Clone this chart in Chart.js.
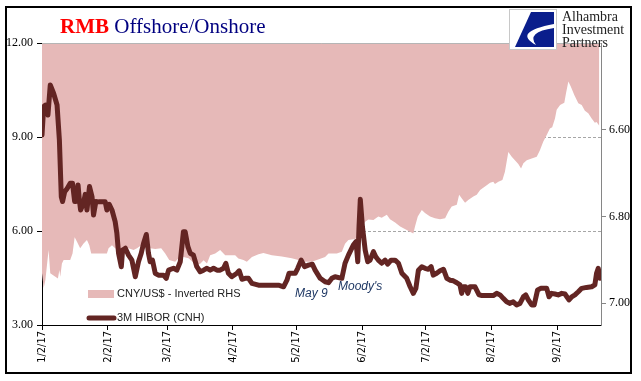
<!DOCTYPE html>
<html>
<head>
<meta charset="utf-8">
<script src="https://cdn.jsdelivr.net/npm/chart.js@4.4.0/dist/chart.umd.min.js"></script>
<style>
  html, body { margin: 0; padding: 0; background: #fff; }
  #wrap { width: 641px; height: 381px; }
</style>
</head>
<body>
<div id="wrap"><canvas id="rmbChart" width="641" height="381"></canvas></div>
<script>
// x values are days since 1/2/17
const tickDays = [0, 31, 59, 90, 120, 151, 181, 212, 243];
const tickLabels = ['1/2/17', '2/2/17', '3/2/17', '4/2/17', '5/2/17', '6/2/17', '7/2/17', '8/2/17', '9/2/17'];

// 3M HIBOR (CNH), left axis
const hiborDays = [
    0, 0.8, 1.6, 2.8, 3.9, 5.5, 7.1, 8.2, 9.1, 9.7,
    10.7, 11.8, 13.3, 14.4, 15.4, 16, 17, 17.6, 18.2, 19.6,
    20.4, 21.2, 22.4, 23.6, 24.3, 25.4, 26.7, 29.8, 30.6, 31.7,
    33, 34.5, 35.3, 36.1, 37.4, 38, 39.3, 40.8, 42.4, 44,
    45.5, 46.8, 47.9, 49.2, 50.2, 51, 52.1, 53.4, 54.9, 57.3,
    58.6, 59.7, 62, 63.6, 65.2, 66.7, 67.5, 68.8, 69.9, 71.4,
    73, 74.6, 76.2, 77.8, 79.3, 80.9, 82.5, 84, 85.6, 86.7,
    87.9, 89.5, 91.9, 93, 94.3, 95.8, 97.4, 99, 102.1, 105.2,
    108.4, 111.5, 113.9, 115.5, 116.5, 119.4, 120.6, 122.2, 123.8, 125.6,
    127.5, 128.8, 131.2, 133.5, 135.1, 136.7, 138.2, 141.4, 142.9, 144.5,
    146.8, 148.1, 148.9, 149.5, 150.1, 151.1, 152.4, 153.6, 154.7, 156.3,
    157.4, 158.6, 160.2, 161.8, 163, 164.6, 166.5, 168.1, 169.7, 172,
    173.6, 175.1, 176.3, 177.5, 179.1, 180.6, 182.2, 183.5, 184.5, 186.1,
    187.7, 189.3, 190.9, 192.4, 194, 195.6, 197.1, 197.9, 198.7, 199.8,
    200.8, 201.8, 204.2, 206.1, 207.4, 212.8, 214.4, 216, 217.5, 219.1,
    220.7, 222.2, 223.8, 225.4, 227, 228.1, 229.3, 230.9, 232.1, 233.7,
    235.3, 238, 239.1, 240.3, 241.9, 243.4, 245.1, 246.6, 248.5, 249.8,
    251.3, 252.9, 254.5, 256.8, 259.2, 260.7, 261.5, 262.3, 263.1
];
const hiborValues = [
    9.06, 9.97, 10.02, 9.70, 10.66, 10.39, 10.02, 8.90, 7.09, 6.94,
    7.25, 7.35, 7.52, 7.52, 6.94, 6.94, 7.47, 7.00, 6.67, 6.90,
    7.17, 6.67, 7.42, 7.09, 6.51, 6.94, 6.93, 6.93, 6.67, 6.85,
    6.67, 6.30, 5.93, 5.29, 4.86, 5.39, 5.45, 5.23, 5.07, 4.54,
    5.02, 5.29, 5.61, 5.89, 5.29, 5.02, 5.07, 4.65, 4.59, 4.59,
    4.49, 4.75, 4.81, 4.75, 5.02, 5.98, 5.98, 5.50, 5.29, 5.23,
    4.86, 4.70, 4.75, 4.81, 4.75, 4.81, 4.75, 4.75, 4.81, 4.97,
    4.65, 4.54, 4.65, 4.73, 4.46, 4.49, 4.49, 4.33, 4.27, 4.27,
    4.27, 4.27, 4.22, 4.43, 4.65, 4.65, 4.81, 5.07, 4.86, 4.91,
    4.94, 4.75, 4.49, 4.38, 4.35, 4.49, 4.54, 4.49, 4.97, 5.23,
    5.55, 5.66, 5.02, 6.14, 7.01, 6.14, 5.39, 5.02, 5.07, 5.34,
    5.18, 5.07, 4.97, 5.07, 4.94, 5.07, 5.07, 4.97, 4.65, 4.49,
    4.22, 4.01, 4.17, 4.75, 4.86, 4.81, 4.78, 4.86, 4.59, 4.65,
    4.73, 4.78, 4.49, 4.43, 4.41, 4.35, 4.28, 4.01, 4.22, 4.22,
    4.01, 4.22, 4.22, 3.96, 3.94, 3.94, 4.01, 3.96, 3.85, 3.74,
    3.69, 3.74, 3.64, 3.69, 3.90, 3.96, 3.80, 3.64, 3.64, 4.12,
    4.17, 4.17, 3.90, 4.01, 3.99, 3.96, 4.01, 3.99, 3.80, 3.90,
    3.96, 4.06, 4.17, 4.20, 4.22, 4.28, 4.65, 4.81, 4.49
];

// CNY/US$, right axis (inverted)
const cnyDays = [
    0, 0.8, 1.6, 3.1, 3.9, 6.3, 7.5, 8.2, 8.6, 9.4,
    10.2, 13.3, 14.4, 15.4, 16.5, 18, 19.6, 21.2, 22.3, 23.2,
    30.6, 31.4, 33, 34.5, 36.1, 38.5, 40.8, 43.2, 44.8, 46.3,
    48.7, 51, 53.4, 56.2, 58.1, 60, 62.8, 64.4, 66.7, 69.1,
    71, 72.2, 74.6, 76.2, 77.8, 79.3, 81.7, 84, 86.4, 91.1,
    92.6, 95, 96.6, 99, 102.1, 104.4, 108.4, 113.1, 117.8, 120.9,
    124.1, 127.2, 129.6, 133.5, 135.1, 139, 141.4, 142.9, 144.5, 147.6,
    149.2, 150.8, 152.4, 153.9, 156.3, 158.6, 160.2, 162.6, 164.1, 166.5,
    168.9, 172, 175.1, 175.9, 177.2, 179.1, 180.6, 183, 185.3, 187.7,
    190.1, 191.6, 193.2, 195.6, 196.7, 197.9, 199.5, 201, 203.4, 205,
    206.6, 208.9, 211.3, 212.8, 213.6, 215.2, 217.1, 218.3, 219.9, 221.5,
    223, 224.6, 225.9, 227, 228.6, 230.9, 233.3, 234.8, 236.4, 238,
    239.5, 240.6, 241.9, 242.7, 244.3, 246.3, 247.1, 248.2, 249.4, 251,
    252.9, 254.5, 256, 257.6, 259.2, 260.7, 261.5, 262.8
];
const cnyValues = [
    6.931, 6.965, 6.946, 6.877, 6.931, 6.939, 6.943, 6.923, 6.939, 6.908,
    6.900, 6.900, 6.885, 6.848, 6.858, 6.873, 6.862, 6.854, 6.866, 6.885,
    6.885, 6.873, 6.866, 6.873, 6.877, 6.870, 6.873, 6.877, 6.873, 6.868,
    6.870, 6.873, 6.875, 6.873, 6.885, 6.900, 6.904, 6.896, 6.893, 6.896,
    6.904, 6.911, 6.909, 6.901, 6.908, 6.889, 6.885, 6.877, 6.889, 6.889,
    6.897, 6.900, 6.904, 6.893, 6.887, 6.884, 6.889, 6.892, 6.896, 6.900,
    6.904, 6.904, 6.900, 6.893, 6.885, 6.885, 6.881, 6.863, 6.854, 6.852,
    6.848, 6.823, 6.812, 6.807, 6.808, 6.800, 6.803, 6.796, 6.806, 6.814,
    6.823, 6.831, 6.839, 6.823, 6.800, 6.785, 6.792, 6.800, 6.804, 6.806,
    6.804, 6.789, 6.777, 6.773, 6.750, 6.758, 6.768, 6.762, 6.754, 6.750,
    6.739, 6.731, 6.722, 6.720, 6.725, 6.720, 6.716, 6.697, 6.651, 6.662,
    6.670, 6.679, 6.689, 6.677, 6.670, 6.666, 6.662, 6.647, 6.627, 6.612,
    6.597, 6.594, 6.574, 6.554, 6.543, 6.538, 6.516, 6.489, 6.501, 6.520,
    6.539, 6.543, 6.556, 6.562, 6.574, 6.584, 6.582, 6.591
];

const leftTicks = [3, 6, 9, 12];
const rightTicks = [6.6, 6.8, 7.0];

const AREA_COLOR = '#E6B9B8';
const LINE_COLOR = '#632523';
const SERIF = "'Liberation Serif', 'Times New Roman', serif";
const SANS = "'Liberation Sans', Arial, sans-serif";

const toPoints = (days, vals) => days.map((d, i) => ({ x: d, y: vals[i] }));

const decorPlugin = {
    id: 'decor',
    beforeDraw(chart) {
        const ctx = chart.ctx;
        ctx.save();
        ctx.fillStyle = '#fff';
        ctx.fillRect(0, 0, chart.width, chart.height);
        ctx.restore();
    },
    afterDatasetsDraw(chart) {
        const ctx = chart.ctx;
        ctx.save();
        // legend
        ctx.fillStyle = AREA_COLOR;
        ctx.fillRect(88, 290, 26, 8);
        ctx.strokeStyle = LINE_COLOR;
        ctx.lineWidth = 5;
        ctx.lineCap = 'round';
        ctx.beginPath();
        ctx.moveTo(89, 318);
        ctx.lineTo(114, 318);
        ctx.stroke();
        ctx.fillStyle = '#222';
        ctx.font = '11px ' + SANS;
        ctx.textBaseline = 'middle';
        ctx.fillText('CNY/US$ - Inverted RHS', 117, 294);
        ctx.fillText('3M HIBOR (CNH)', 117, 318);
        // notes
        ctx.fillStyle = '#1F3864';
        ctx.font = 'italic 12px ' + SANS;
        ctx.fillText('May 9', 295, 294);
        ctx.fillText("Moody's", 338, 287);
        ctx.restore();
    },
    afterDraw(chart) {
        const ctx = chart.ctx;
        const area = chart.chartArea;
        ctx.save();
        // top edge of plot
        ctx.strokeStyle = '#b5b5b5';
        ctx.lineWidth = 1;
        ctx.beginPath();
        ctx.moveTo(area.left, area.top + 0.5);
        ctx.lineTo(area.right, area.top + 0.5);
        ctx.stroke();

        // title
        ctx.textBaseline = 'alphabetic';
        ctx.font = 'bold 21px ' + SERIF;
        ctx.fillStyle = '#FF0000';
        ctx.fillText('RMB', 60, 33);
        const w = ctx.measureText('RMB ').width;
        ctx.font = '21px ' + SERIF;
        ctx.fillStyle = '#000080';
        ctx.fillText('Offshore/Onshore', 60 + w, 33);

        // logo box
        ctx.fillStyle = '#fff';
        ctx.fillRect(509, 9, 48, 41);
        ctx.strokeStyle = '#c8c8c8';
        ctx.lineWidth = 1;
        ctx.strokeRect(509.5, 9.5, 47, 40);
        ctx.fillStyle = '#0A1E8C';
        ctx.beginPath();
        ctx.moveTo(531, 12);
        ctx.lineTo(554, 12);
        ctx.lineTo(554, 47);
        ctx.lineTo(515, 47);
        ctx.closePath();
        ctx.fill();
        ctx.fillStyle = '#fff';
        ctx.beginPath();
        ctx.moveTo(554, 24);
        ctx.quadraticCurveTo(512, 32, 536, 45);
        ctx.quadraticCurveTo(526, 32, 554, 28);
        ctx.closePath();
        ctx.fill();

        // logo text
        ctx.fillStyle = '#222';
        ctx.font = '14px ' + SERIF;
        ctx.fillText('Alhambra', 562, 21);
        ctx.fillText('Investment', 562, 34);
        ctx.fillText('Partners', 562, 47);

        // outer frame
        ctx.strokeStyle = '#000';
        ctx.lineWidth = 2;
        ctx.strokeRect(6, 7, 625, 366);
        ctx.restore();
    }
};

const ctx = document.getElementById('rmbChart').getContext('2d');
const chart = new Chart(ctx, {
    type: 'line',
    data: {
        datasets: [
            {
                label: '3M HIBOR (CNH)',
                data: toPoints(hiborDays, hiborValues),
                yAxisID: 'y',
                borderColor: LINE_COLOR,
                borderWidth: 5,
                borderJoinStyle: 'round',
                borderCapStyle: 'round',
                pointRadius: 0,
                tension: 0,
                fill: false,
                order: 0
            },
            {
                label: 'CNY/US$ - Inverted RHS',
                data: toPoints(cnyDays, cnyValues),
                yAxisID: 'y2',
                borderWidth: 0,
                borderColor: AREA_COLOR,
                backgroundColor: AREA_COLOR,
                pointRadius: 0,
                tension: 0,
                fill: { value: 6.4 },
                order: 1
            }
        ]
    },
    options: {
        responsive: false,
        animation: false,
        devicePixelRatio: 1,
        layout: { padding: { top: 43, left: 0, right: 0, bottom: 0 } },
        plugins: {
            legend: { display: false },
            tooltip: { enabled: false }
        },
        scales: {
            x: {
                type: 'linear',
                min: 0,
                max: 263.6,
                afterBuildTicks: (scale) => { scale.ticks = tickDays.map(v => ({ value: v })); },
                afterFit: (scale) => { scale.height = 56; },
                ticks: {
                    autoSkip: false,
                    minRotation: 90,
                    maxRotation: 90,
                    padding: 1,
                    color: '#000',
                    font: { family: "'Liberation Sans Narrow', 'DejaVu Sans Condensed', 'Liberation Sans', sans-serif", size: 11 },
                    callback: (value) => tickLabels[tickDays.indexOf(value)]
                },
                grid: { drawOnChartArea: false, drawTicks: true, tickLength: 5, tickColor: '#000' },
                border: { display: true, color: '#000', width: 1 }
            },
            y: {
                position: 'left',
                min: 3,
                max: 12,
                afterBuildTicks: (scale) => { scale.ticks = leftTicks.map(v => ({ value: v })); },
                afterFit: (scale) => { scale.width = 42; },
                ticks: {
                    padding: 4,
                    color: '#000',
                    font: { family: SERIF, size: 12 },
                    callback: (value) => value.toFixed(2)
                },
                grid: {
                    color: (c) => (c.tick && (c.tick.value === 6 || c.tick.value === 9)) ? '#a6a6a6' : 'rgba(0,0,0,0)',
                    lineWidth: 1,
                    drawTicks: true,
                    tickLength: 5,
                    tickColor: '#000',
                    tickBorderDash: []
                },
                border: { display: true, color: '#000', width: 1, dash: [3, 2] }
            },
            y2: {
                position: 'right',
                reverse: true,
                min: 6.4,
                max: 7.05,
                afterBuildTicks: (scale) => { scale.ticks = rightTicks.map(v => ({ value: v })); },
                afterFit: (scale) => { scale.width = 40; },
                ticks: {
                    padding: 3,
                    color: '#000',
                    font: { family: SERIF, size: 12 },
                    callback: (value) => value.toFixed(2)
                },
                grid: { drawOnChartArea: false, drawTicks: true, tickLength: 5, tickColor: '#868686' },
                border: { display: true, color: '#868686', width: 1 }
            }
        }
    },
    plugins: [decorPlugin]
});
</script>
</body>
</html>
